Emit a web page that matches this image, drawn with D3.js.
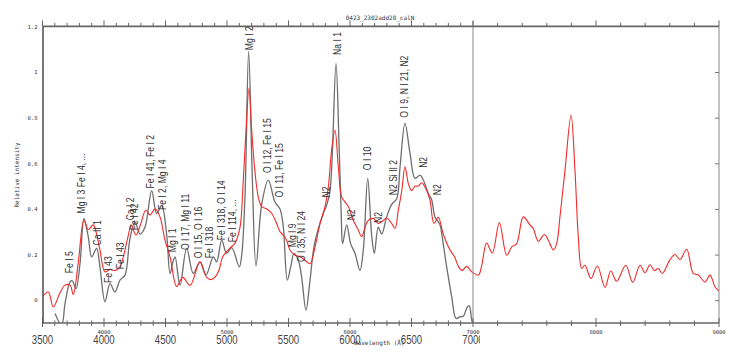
<!DOCTYPE html>
<meta charset="utf-8">
<style>
body { margin: 0; background: #fff; }
svg { display: block; }
.mono { font-family: "DejaVu Sans Mono", monospace; fill: #333; }
.big { font-family: "Liberation Sans", Arial, sans-serif; font-size: 12px; fill: #444; }
.lab { font-family: "Liberation Sans", Arial, sans-serif; font-size: 10px; fill: #333; }
</style>
<svg width="746" height="361"></svg>
<script src="https://d3js.org/d3.v7.min.js"></script>
<script>

// spectrum: [wavelength, relative intensity]
var redSpectrum = [
  [3500, 0.015], [3547, 0.036], [3588, -0.03], [3640, 0.03], [3683, 0.066], [3724, 0.066],
  [3750, 0.025], [3790, 0.16], [3837, 0.35], [3872, 0.31], [3913, 0.33], [3935, 0.30],
  [3967, 0.22], [4008, 0.124], [4049, 0.135], [4090, 0.13], [4130, 0.146], [4157, 0.19],
  [4198, 0.285], [4220, 0.33], [4260, 0.285], [4293, 0.325], [4341, 0.395], [4374, 0.373],
  [4415, 0.40], [4455, 0.365], [4496, 0.263], [4537, 0.19], [4591, 0.06], [4640, 0.10],
  [4700, 0.065], [4780, 0.168], [4835, 0.10], [4870, 0.09], [4910, 0.105], [4940, 0.14],
  [4965, 0.19], [5024, 0.228], [5065, 0.25], [5106, 0.32], [5130, 0.50], [5155, 0.75],
  [5179, 0.93], [5200, 0.75], [5228, 0.56], [5255, 0.45], [5282, 0.41], [5323, 0.40],
  [5364, 0.38], [5404, 0.336], [5431, 0.30], [5458, 0.285], [5485, 0.263], [5512, 0.22],
  [5553, 0.197], [5594, 0.19], [5634, 0.175], [5675, 0.16], [5716, 0.234], [5756, 0.336],
  [5797, 0.41], [5824, 0.497], [5851, 0.66], [5878, 0.745], [5905, 0.585], [5932, 0.453],
  [5960, 0.43], [5987, 0.41], [6027, 0.35], [6068, 0.307], [6095, 0.278], [6122, 0.32],
  [6149, 0.35], [6190, 0.358], [6230, 0.336], [6271, 0.35], [6298, 0.36], [6339, 0.336],
  [6366, 0.314], [6393, 0.395], [6421, 0.48], [6447, 0.585], [6475, 0.51], [6502, 0.48],
  [6529, 0.50], [6556, 0.50], [6583, 0.515], [6624, 0.48], [6650, 0.44], [6683, 0.336],
  [6718, 0.363], [6758, 0.29], [6813, 0.22], [6850, 0.19], [6880, 0.15], [6910, 0.13],
  [6949, 0.148], [6990, 0.124], [7044, 0.11], [7070, 0.15], [7111, 0.25], [7157, 0.207],
  [7214, 0.34], [7274, 0.197], [7315, 0.234], [7355, 0.248], [7409, 0.365], [7463, 0.33],
  [7490, 0.314], [7531, 0.258], [7580, 0.288], [7612, 0.263], [7653, 0.22], [7680, 0.248],
  [7707, 0.365], [7748, 0.57], [7797, 0.81], [7829, 0.57], [7856, 0.278], [7884, 0.139],
  [7910, 0.153], [7959, 0.095], [8011, 0.15], [8073, 0.056], [8120, 0.128], [8168, 0.083],
  [8242, 0.153], [8298, 0.078], [8358, 0.153], [8398, 0.12], [8439, 0.155], [8474, 0.13],
  [8507, 0.139], [8539, 0.117], [8602, 0.178], [8642, 0.20], [8683, 0.178], [8737, 0.223],
  [8791, 0.117], [8832, 0.11], [8886, 0.08], [8927, 0.11], [8968, 0.058], [9000, 0.04]
];

var graySpectrum = [
  [3602, -0.058], [3656, -0.11], [3683, -0.015], [3724, 0.08], [3742, 0.085], [3772, 0.05],
  [3805, 0.16], [3837, 0.358], [3872, 0.278], [3900, 0.19], [3940, 0.227], [3967, 0.146],
  [4008, -0.007], [4049, 0.073], [4089, 0.036], [4130, 0.088], [4171, 0.11], [4211, 0.27],
  [4252, 0.343], [4293, 0.29], [4333, 0.32], [4388, 0.48], [4428, 0.38], [4469, 0.415],
  [4510, 0.285], [4537, 0.117], [4564, 0.175], [4578, 0.19], [4618, 0.066], [4672, 0.227],
  [4726, 0.117], [4780, 0.168], [4829, 0.11], [4889, 0.19], [4916, 0.168], [4957, 0.263],
  [4997, 0.205], [5038, 0.23], [5100, 0.146], [5120, 0.2], [5146, 0.45], [5176, 1.09],
  [5205, 0.55], [5236, 0.15], [5282, 0.42], [5336, 0.526], [5390, 0.43], [5431, 0.40],
  [5458, 0.32], [5490, 0.088], [5518, 0.146], [5545, 0.205], [5580, 0.175], [5607, 0.10],
  [5642, -0.044], [5675, 0.088], [5707, 0.234], [5743, 0.314], [5783, 0.38], [5810, 0.416],
  [5838, 0.48], [5886, 1.038], [5910, 0.70], [5930, 0.35], [5940, 0.248], [5973, 0.33],
  [6005, 0.248], [6041, 0.205], [6081, 0.13], [6108, 0.22], [6144, 0.534], [6177, 0.278],
  [6198, 0.205], [6230, 0.32], [6258, 0.29], [6298, 0.365], [6339, 0.42], [6380, 0.445],
  [6407, 0.585], [6447, 0.775], [6488, 0.643], [6529, 0.534], [6570, 0.548], [6597, 0.526],
  [6637, 0.468], [6664, 0.44], [6691, 0.365], [6732, 0.33], [6746, 0.29], [6786, 0.146],
  [6827, 0.015], [6862, -0.08], [6894, -0.073], [6921, -0.07], [6954, -0.03], [6970, -0.025],
  [6990, -0.088], [7000, -0.1]
];

// line identifications: [text, wavelength, intensity where the label starts]
var lineLabels = [
  ["Fe I 5", 3715, 0.118], ["Mg I 3 Fe I 4, ...", 3813, 0.38], ["Ca II 1", 3943, 0.24],
  ["Fe I 43", 4033, 0.075], ["Fe I 43", 4130, 0.136], ["Ca I 2", 4211, 0.35],
  ["Fe I 42", 4244, 0.307], ["Fe I 41, Fe I 2", 4374, 0.49], ["Fe I 2, Mg I 4", 4472, 0.395],
  ["Mg I 1", 4553, 0.21], ["O I 17, Mg I 11", 4659, 0.22], ["O I 15, O I 16", 4764, 0.184],
  ["Fe I 318", 4854, 0.184], ["Fe I 318, O I 14", 4951, 0.263], ["Fe I 114, ...", 5041, 0.254],
  ["Mg I 2", 5179, 1.096], ["O I 12, Fe I 15", 5325, 0.557], ["O I 11, Fe I 15", 5423, 0.45],
  ["Mg I 9", 5528, 0.232], ["O I 35, N I 24", 5602, 0.167], ["N2", 5805, 0.45],
  ["Na I 1", 5894, 1.075], ["N2", 6008, 0.35], ["O I 10", 6138, 0.57], ["N2", 6228, 0.338],
  ["N2 Si II 2", 6350, 0.46], ["O I 9, N I 21, N2", 6439, 0.80], ["N2", 6593, 0.58],
  ["N2", 6707, 0.46]
];

var yTicks = [0, 0.2, 0.4, 0.6, 0.8, 1, 1.2];
var smallXLabels = [4000, 5000, 6000, 7000, 8000, 9000];
var bigXLabels = [3500, 4000, 4500, 5000, 5500, 6000, 6500, 7000];
var xTicks = d3.range(3500, 7001, 100).concat(d3.range(7200, 9001, 200));
var title = "0423_2302add20_calN";

var svg = d3.select("svg");

var x = d3.scaleLinear().domain([3500, 9000]).range([42.5, 719]),
    y = d3.scaleLinear().domain([-0.1, 1.2]).range([323, 26.4]);

var isMajor = function(d) { return (d <= 7000 && d % 500 === 0) || d % 1000 === 0; };

svg.append("clipPath").attr("id", "plot")
  .append("rect")
    .attr("x", x(3500)).attr("y", y(1.2))
    .attr("width", x(9000) - x(3500)).attr("height", y(-0.1) - y(1.2));

svg.append("clipPath").attr("id", "bigclip")
  .append("rect").attr("x", 0).attr("y", 300).attr("width", 480).attr("height", 61);

// spectra
var line = d3.line()
    .x(function(d) { return x(d[0]); })
    .y(function(d) { return y(d[1]); })
    .curve(d3.curveCatmullRom.alpha(0.5));

var plot = svg.append("g").attr("clip-path", "url(#plot)");

plot.append("path").datum(graySpectrum)
    .attr("d", line).attr("fill", "none")
    .attr("stroke", "#6e6e6e").attr("stroke-width", 1.3);

plot.append("path").datum(redSpectrum)
    .attr("d", line).attr("fill", "none")
    .attr("stroke", "#f22a2a").attr("stroke-width", 1.1);

// frame: right side and the 7000 divider
svg.append("line")
    .attr("x1", x(9000)).attr("x2", x(9000)).attr("y1", y(1.2)).attr("y2", y(-0.1))
    .attr("stroke", "#888").attr("stroke-width", 1);
svg.append("line")
    .attr("x1", x(7000)).attr("x2", x(7000)).attr("y1", y(1.2) - 5).attr("y2", y(-0.1))
    .attr("stroke", "#888").attr("stroke-width", 1);

// top axis, ticks outward
var axTop = svg.append("g").attr("transform", "translate(0," + y(1.2) + ")");
axTop.append("line").attr("x1", x(3500)).attr("x2", x(9000))
    .attr("stroke", "#666").attr("stroke-width", 1.6);
axTop.selectAll(".t").data(xTicks).enter().append("line")
    .attr("x1", function(d) { return x(d); }).attr("x2", function(d) { return x(d); })
    .attr("y1", 0).attr("y2", function(d) { return isMajor(d) ? -6 : -3.5; })
    .attr("stroke", "#666");

// bottom axis, ticks across the line
var axBottom = svg.append("g").attr("transform", "translate(0," + y(-0.1) + ")");
axBottom.append("line").attr("x1", x(3500)).attr("x2", x(9000))
    .attr("stroke", "#666").attr("stroke-width", 1.6);
axBottom.selectAll(".t").data(xTicks).enter().append("line")
    .attr("x1", function(d) { return x(d); }).attr("x2", function(d) { return x(d); })
    .attr("y1", function(d) { return isMajor(d) ? -5 : -2.5; })
    .attr("y2", function(d) { return isMajor(d) ? 4 : 3; })
    .attr("stroke", "#666");

axBottom.selectAll(".s").data(smallXLabels).enter().append("text")
    .attr("class", "mono").style("font-size", "5.5px")
    .attr("text-anchor", "middle")
    .attr("x", function(d) { return x(d); }).attr("y", 11)
    .text(function(d) { return d; });

svg.append("g").attr("clip-path", "url(#bigclip)")
  .selectAll("text").data(bigXLabels).enter().append("text")
    .attr("class", "big")
    .attr("text-anchor", "middle")
    .attr("transform", function(d) { return "translate(" + x(d) + ",343.5) scale(0.8,1)"; })
    .text(function(d) { return d; });

svg.append("text").attr("class", "mono").style("font-size", "6px")
    .attr("x", 354).attr("y", 345)
    .text("Wavelength (Å)");

// left axis
var axLeft = svg.append("g").attr("transform", "translate(" + x(3500) + ",0)")
    .call(d3.axisLeft(y).tickValues(yTicks).tickSize(0).tickPadding(5)
      .tickFormat(function(d) { return +d.toFixed(1); }));
axLeft.attr("font-family", null);
axLeft.select(".domain").attr("stroke", "#555").attr("stroke-width", 1.6);
axLeft.selectAll("text").attr("class", "mono").style("font-size", "5.5px");

// right side ticks point inward
var axRight = svg.append("g").attr("transform", "translate(" + x(9000) + ",0)")
    .call(d3.axisLeft(y).tickValues(yTicks.slice(0, 6)).tickSize(4).tickFormat(""));
axRight.select(".domain").remove();
axRight.selectAll("line").attr("stroke", "#777");

svg.append("text").attr("class", "mono").style("font-size", "6px")
    .attr("text-anchor", "middle")
    .attr("transform", "translate(19,175) rotate(-90)")
    .text("Relative intensity");

svg.append("text").attr("class", "mono").style("font-size", "6px")
    .attr("text-anchor", "middle")
    .attr("x", 380).attr("y", 20)
    .text(title);

// line identifications
svg.selectAll(".lab").data(lineLabels).enter().append("text")
    .attr("class", "lab")
    .attr("dy", "0.36em")
    .attr("transform", function(d) {
      return "translate(" + x(d[1]) + "," + y(d[2]) + ") rotate(-90) scale(0.86,1)";
    })
    .text(function(d) { return d[0]; });

</script>
